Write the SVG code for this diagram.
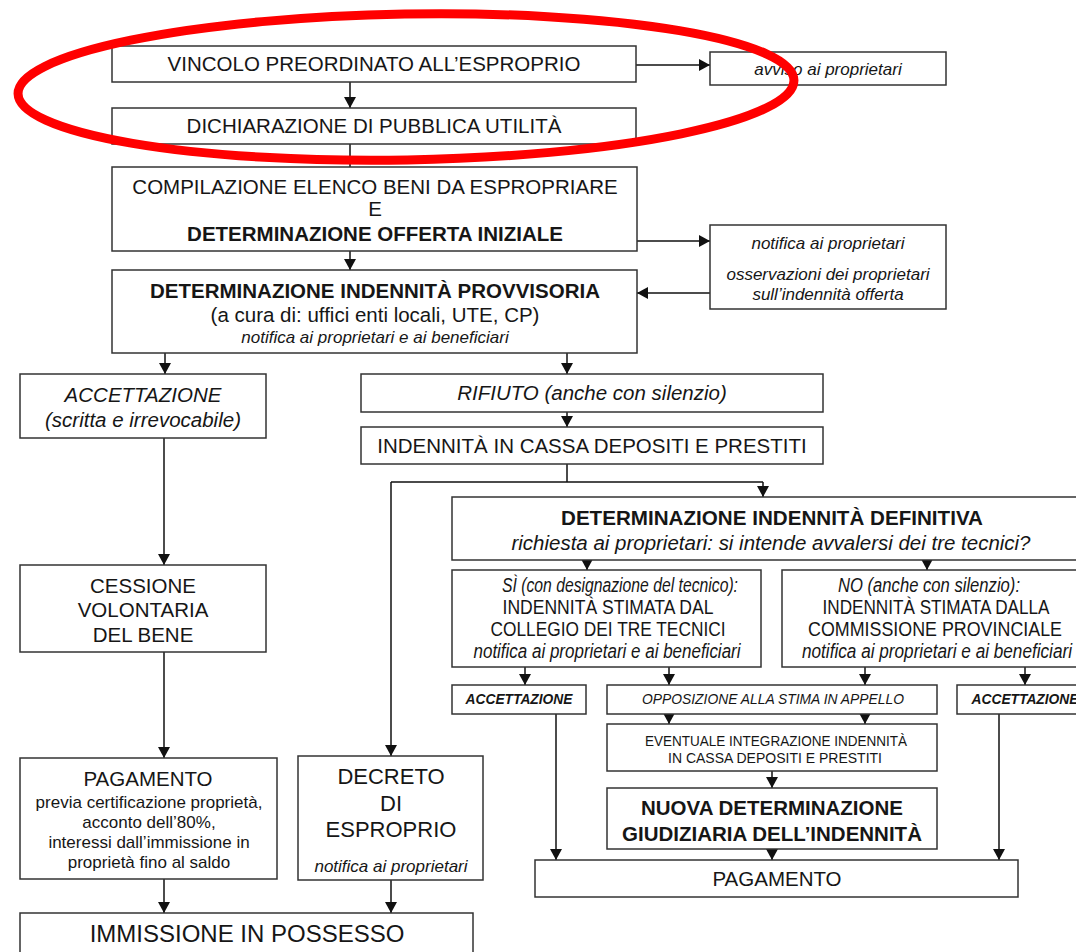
<svg xmlns="http://www.w3.org/2000/svg" width="1076" height="952" viewBox="0 0 1076 952">
<defs>
<marker id="ah" markerUnits="userSpaceOnUse" markerWidth="12" markerHeight="12" refX="11" refY="6" orient="auto"><path d="M0,0 L11,6 L0,12 z" fill="#111"/></marker>
</defs>
<style>
.b{fill:#fff;stroke:#333;stroke-width:1.5}
text{font-family:"Liberation Sans",Arial,sans-serif;fill:#161616;text-anchor:middle;font-size:20.5px}
.bo{font-weight:bold}
.i{font-style:italic}
.s17{font-size:17px}
.s20{font-size:20px}
.s14{font-size:14px}
.s22{font-size:22px}
.s24{font-size:24px}
.c line,.c path{stroke:#111;stroke-width:1.5;fill:none}
.a{marker-end:url(#ah)}
</style>
<rect width="1076" height="952" fill="#fff"/>

<g class="c" id="connectors">
<line class="a" x1="636" y1="65" x2="710" y2="65"/>
<line class="a" x1="350" y1="82" x2="350" y2="108"/>
<line x1="350" y1="144" x2="350" y2="167"/>
<line class="a" x1="637" y1="241" x2="710" y2="241"/>
<line class="a" x1="710" y1="293" x2="637" y2="293"/>
<line class="a" x1="350" y1="251" x2="350" y2="270"/>
<line class="a" x1="165" y1="353" x2="165" y2="374"/>
<line class="a" x1="567" y1="353" x2="567" y2="374"/>
<line class="a" x1="567" y1="412" x2="567" y2="427"/>
<path d="M567,464 V482 M391,482 H763"/>
<line class="a" x1="763" y1="482" x2="763" y2="497"/>
<line class="a" x1="391" y1="482" x2="391" y2="756"/>
<line class="a" x1="164" y1="438" x2="164" y2="565"/>
<line class="a" x1="164" y1="652" x2="164" y2="758"/>
<line class="a" x1="164" y1="879" x2="164" y2="913"/>
<line class="a" x1="391" y1="880" x2="391" y2="913"/>
<line class="a" x1="587" y1="558" x2="587" y2="570"/>
<line class="a" x1="927" y1="558" x2="927" y2="570"/>
<line class="a" x1="525" y1="667" x2="525" y2="685"/>
<line class="a" x1="669" y1="667" x2="669" y2="685"/>
<line class="a" x1="865" y1="667" x2="865" y2="685"/>
<line class="a" x1="1025" y1="667" x2="1025" y2="685"/>
<line class="a" x1="669" y1="712" x2="669" y2="724"/>
<line class="a" x1="865" y1="712" x2="865" y2="724"/>
<line class="a" x1="772" y1="771" x2="772" y2="788"/>
<line class="a" x1="772" y1="848" x2="772" y2="860"/>
<line class="a" x1="556" y1="714" x2="556" y2="860"/>
<line class="a" x1="999" y1="714" x2="999" y2="860"/>
</g>

<g id="vincolo"><rect class="b" x="112" y="46" width="524" height="36"/><text x="374" y="71">VINCOLO PREORDINATO ALL’ESPROPRIO</text></g>
<g id="avviso"><rect class="b" x="710" y="52" width="236" height="33"/><text class="i s17" x="828" y="75">avviso ai proprietari</text></g>
<g id="dichiarazione"><rect class="b" x="112" y="108" width="524" height="36"/><text x="374" y="133">DICHIARAZIONE DI PUBBLICA UTILITÀ</text></g>
<g id="compilazione"><rect class="b" x="112" y="167" width="525" height="84"/>
<text x="375" y="194">COMPILAZIONE ELENCO BENI DA ESPROPRIARE</text>
<text x="375" y="216">E</text>
<text class="bo" x="375" y="241">DETERMINAZIONE OFFERTA INIZIALE</text></g>
<g id="notifica"><rect class="b" x="710" y="225" width="236" height="84"/>
<text class="i s17" x="828" y="249">notifica ai proprietari</text>
<text class="i s17" x="828" y="280">osservazioni dei proprietari</text>
<text class="i s17" x="828" y="300">sull’indennità offerta</text></g>
<g id="provvisoria"><rect class="b" x="112" y="270" width="525" height="83"/>
<text class="bo" x="375" y="298">DETERMINAZIONE INDENNITÀ PROVVISORIA</text>
<text x="375" y="322">(a cura di: uffici enti locali, UTE, CP)</text>
<text class="i s17" x="375" y="343">notifica ai proprietari e ai beneficiari</text></g>
<g id="accettazione"><rect class="b" x="20" y="374" width="246" height="64"/>
<text class="i" x="143" y="402">ACCETTAZIONE</text>
<text class="i" x="143" y="427">(scritta e irrevocabile)</text></g>
<g id="rifiuto"><rect class="b" x="361" y="374" width="462" height="38"/><text class="i" x="592" y="400">RIFIUTO (anche con silenzio)</text></g>
<g id="cassa"><rect class="b" x="361" y="427" width="462" height="37"/><text x="592" y="453">INDENNITÀ IN CASSA DEPOSITI E PRESTITI</text></g>
<g id="definitiva"><rect class="b" x="452" y="497" width="640" height="63"/>
<text class="bo" x="772" y="525" textLength="422" lengthAdjust="spacingAndGlyphs">DETERMINAZIONE INDENNITÀ DEFINITIVA</text>
<text class="i" x="771" y="550" textLength="519" lengthAdjust="spacingAndGlyphs">richiesta ai proprietari: si intende avvalersi dei tre tecnici?</text></g>
<g id="si"><rect class="b" x="452" y="570" width="309" height="97"/>
<text class="i s20" x="620" y="592" textLength="236" lengthAdjust="spacingAndGlyphs">SÌ (con designazione del tecnico):</text>
<text class="s20" x="608" y="614" textLength="211" lengthAdjust="spacingAndGlyphs">INDENNITÀ STIMATA DAL</text>
<text class="s20" x="608" y="636" textLength="235" lengthAdjust="spacingAndGlyphs">COLLEGIO DEI TRE TECNICI</text>
<text class="i s20" x="607" y="658" textLength="267" lengthAdjust="spacingAndGlyphs">notifica ai proprietari e ai beneficiari</text></g>
<g id="no"><rect class="b" x="782" y="570" width="310" height="97"/>
<text class="i s20" x="929" y="592" textLength="182" lengthAdjust="spacingAndGlyphs">NO (anche con silenzio):</text>
<text class="s20" x="936" y="614" textLength="227" lengthAdjust="spacingAndGlyphs">INDENNITÀ STIMATA DALLA</text>
<text class="s20" x="935" y="636" textLength="254" lengthAdjust="spacingAndGlyphs">COMMISSIONE PROVINCIALE</text>
<text class="i s20" x="937" y="658" textLength="270" lengthAdjust="spacingAndGlyphs">notifica ai proprietari e ai beneficiari</text></g>
<g id="acc-si"><rect class="b" x="452" y="685" width="134" height="29"/><text class="i bo s14" x="519" y="704" textLength="107" lengthAdjust="spacingAndGlyphs">ACCETTAZIONE</text></g>
<g id="opposizione"><rect class="b" x="607" y="685" width="330" height="29"/><text class="i s14" x="773" y="704" textLength="262" lengthAdjust="spacingAndGlyphs">OPPOSIZIONE ALLA STIMA IN APPELLO</text></g>
<g id="acc-no"><rect class="b" x="957" y="685" width="140" height="29"/><text class="i bo s14" x="1025" y="704" textLength="107" lengthAdjust="spacingAndGlyphs">ACCETTAZIONE</text></g>
<g id="eventuale"><rect class="b" x="607" y="724" width="330" height="47"/>
<text class="s14" x="776" y="746" textLength="262" lengthAdjust="spacingAndGlyphs">EVENTUALE INTEGRAZIONE INDENNITÀ</text>
<text class="s14" x="775" y="763" textLength="214" lengthAdjust="spacingAndGlyphs">IN CASSA DEPOSITI E PRESTITI</text></g>
<g id="nuova"><rect class="b" x="607" y="788" width="330" height="61"/>
<text class="bo" x="772" y="815">NUOVA DETERMINAZIONE</text>
<text class="bo" x="772" y="841">GIUDIZIARIA DELL’INDENNITÀ</text></g>
<g id="pagamento-dx"><rect class="b" x="535" y="860" width="483" height="37"/><text x="777" y="886">PAGAMENTO</text></g>
<g id="cessione"><rect class="b" x="20" y="565" width="246" height="87"/>
<text x="143" y="593">CESSIONE</text>
<text x="143" y="617">VOLONTARIA</text>
<text x="143" y="642">DEL BENE</text></g>
<g id="pagamento-sx"><rect class="b" x="20" y="758" width="257" height="121"/>
<text x="148" y="786">PAGAMENTO</text>
<text class="s17" x="149" y="808">previa certificazione proprietà,</text>
<text class="s17" x="149" y="828">acconto dell’80%,</text>
<text class="s17" x="149" y="848">interessi dall’immissione in</text>
<text class="s17" x="149" y="868">proprietà fino al saldo</text></g>
<g id="decreto"><rect class="b" x="298" y="756" width="185" height="124"/>
<text class="s22" x="391" y="784">DECRETO</text>
<text class="s22" x="391" y="811">DI</text>
<text class="s22" x="391" y="837">ESPROPRIO</text>
<text class="i s17" x="391" y="872">notifica ai proprietari</text></g>
<g id="immissione"><rect class="b" x="20" y="913" width="453" height="60"/><text class="s24" x="247" y="942">IMMISSIONE IN POSSESSO</text></g>

<ellipse id="evidenziazione" cx="406" cy="87" rx="388" ry="73" transform="rotate(-1 406 87)" fill="none" stroke="#ff0000" stroke-width="9"/>
</svg>
